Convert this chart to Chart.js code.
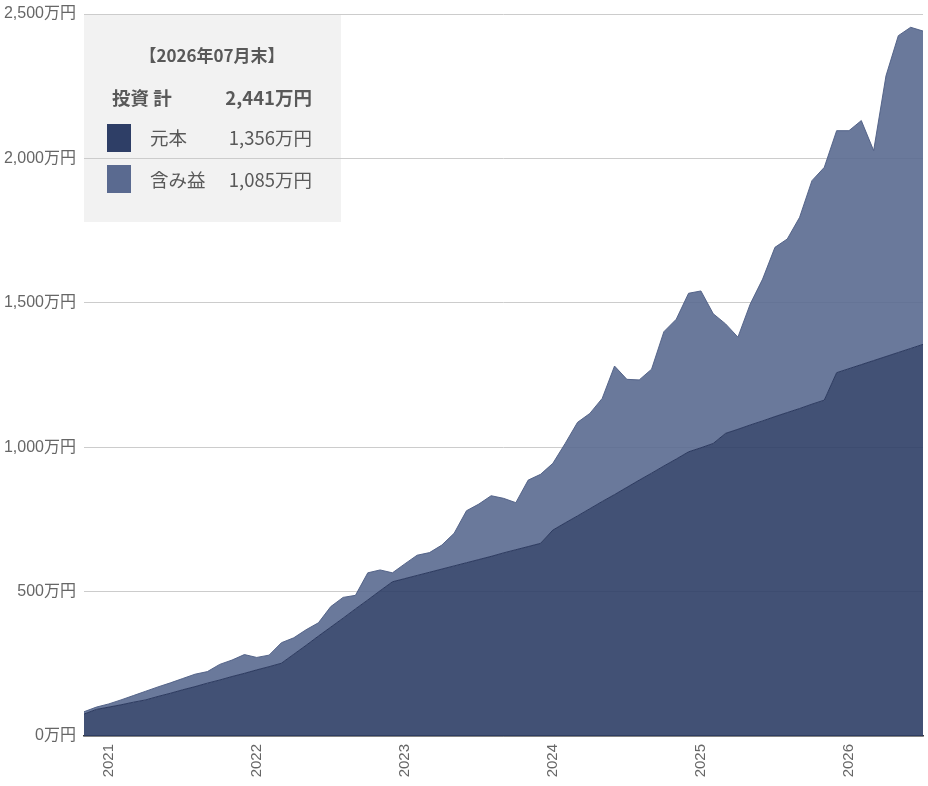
<!DOCTYPE html>
<html>
<head>
<meta charset="utf-8">
<script src="https://cdn.jsdelivr.net/npm/chart.js@4.4.1/dist/chart.umd.min.js"></script>
<style>
  html, body { margin: 0; padding: 0; background: #ffffff; }
  #wrap { width: 928px; height: 786px; position: relative; }
</style>
</head>
<body>
<div id="wrap"><canvas id="c" width="928" height="786"></canvas></div>
<script>
const months = [
  '2020/11','2020/12',
  '2021/01','2021/02','2021/03','2021/04','2021/05','2021/06','2021/07','2021/08','2021/09','2021/10','2021/11','2021/12',
  '2022/01','2022/02','2022/03','2022/04','2022/05','2022/06','2022/07','2022/08','2022/09','2022/10','2022/11','2022/12',
  '2023/01','2023/02','2023/03','2023/04','2023/05','2023/06','2023/07','2023/08','2023/09','2023/10','2023/11','2023/12',
  '2024/01','2024/02','2024/03','2024/04','2024/05','2024/06','2024/07','2024/08','2024/09','2024/10','2024/11','2024/12',
  '2025/01','2025/02','2025/03','2025/04','2025/05','2025/06','2025/07','2025/08','2025/09','2025/10','2025/11','2025/12',
  '2026/01','2026/02','2026/03','2026/04','2026/05','2026/06','2026/07'
];
// 元本 (principal), 万円
const principal = [76,92,100,108,117,125,137,148,160,171,183,194,206,217,229,240,252,
  283,314,346,377,408,440,471,503,534,
  545,556,567,578,589,600,611,622,634,645,656,667,
  713,738,762,787,812,836,861,886,910,935,959,984,
  998,1013,1048,1062,1077,1091,1106,1120,1134,1149,1163,
  1258,1272,1286,1300,1314,1328,1342,1356];
// 含み益 (unrealized gain), 万円
const gains = [8,8,11,17,23,30,33,36,39,43,
  40,54,57,65,43,40,71,57,54,46,
  71,72,47,94,72,31,51,70,68,83,
  113,180,192,210,189,163,230,239,231,275,
  324,330,357,445,374,347,360,465,484,549,
  543,449,379,319,419,491,586,601,662,774,
  806,838,824,845,727,972,1097,1112,1085];
const yearTicks = ['2021','2022','2023','2024','2025','2026'];
const seriesNames = ['元本','含み益'];
const boxTitle = '【2026年07月末】';
const totalLabel = '投資 計';

const fmt = v => v.toLocaleString('en-US') + '万円';
const CJK = "'Liberation Sans', 'Noto Sans CJK JP', sans-serif";
const BOXF = "'Noto Sans CJK JP', 'Noto Sans', sans-serif";

const darkSolid = '#2e3e66';
const lightSolid = '#5a6a90';

const boxPlugin = {
  id: 'summaryBox',
  beforeDraw(chart) {
    const ctx = chart.ctx;
    ctx.save();
    ctx.fillStyle = '#ffffff';
    ctx.fillRect(0, 0, chart.width, chart.height);
    ctx.fillStyle = '#f2f2f2';
    ctx.fillRect(84, 15, 257, 207);
    ctx.restore();
  },
  afterDraw(chart) {
    const ctx = chart.ctx;
    const last = principal.length - 1;
    const p = principal[last], g = gains[last];
    ctx.save();
    ctx.fillStyle = '#595959';
    ctx.textBaseline = 'middle';
    ctx.font = "bold 17px " + BOXF;
    ctx.textAlign = 'center';
    ctx.fillText(boxTitle, 212, 56);
    ctx.font = "bold 18.5px " + BOXF;
    ctx.textAlign = 'left';
    ctx.fillText(totalLabel, 112, 98);
    ctx.textAlign = 'right';
    ctx.fillText(fmt(p + g), 312, 98);
    // rows
    ctx.fillStyle = darkSolid;
    ctx.fillRect(107, 124, 24, 28);
    ctx.fillStyle = lightSolid;
    ctx.fillRect(107, 165, 24, 28);
    ctx.fillStyle = '#595959';
    ctx.font = "18.5px " + BOXF;
    ctx.textAlign = 'left';
    ctx.fillText(seriesNames[0], 150, 138);
    ctx.fillText(seriesNames[1], 150, 180);
    ctx.textAlign = 'right';
    ctx.fillText(fmt(p), 312, 138);
    ctx.fillText(fmt(g), 312, 180);
    ctx.restore();
  }
};

new Chart(document.getElementById('c'), {
  type: 'line',
  data: {
    labels: months,
    datasets: [
      {
        label: seriesNames[0],
        data: principal,
        fill: 'origin',
        backgroundColor: 'rgba(46,62,102,0.9)',
        borderColor: 'rgba(40,54,92,0.95)',
        borderWidth: 1,
        pointRadius: 0,
        tension: 0
      },
      {
        label: seriesNames[1],
        data: gains,
        fill: '-1',
        backgroundColor: 'rgba(90,106,144,0.9)',
        borderColor: 'rgba(80,96,134,0.95)',
        borderWidth: 1,
        pointRadius: 0,
        tension: 0
      }
    ]
  },
  options: {
    responsive: false,
    animation: false,
    devicePixelRatio: 1,
    layout: { padding: { top: 14, right: 5, bottom: 0, left: 0 } },
    plugins: {
      legend: { display: false },
      tooltip: { enabled: false }
    },
    events: [],
    scales: {
      x: {
        type: 'category',
        offset: false,
        grid: { display: false, drawTicks: false },
        border: { display: true, color: '#3a3a3a', width: 1.5 },
        ticks: {
          autoSkip: false,
          maxRotation: 90,
          minRotation: 90,
          padding: 8,
          color: '#666666',
          font: { size: 15, family: CJK },
          callback: function(v, i) {
            const m = months[i];
            const y = m.slice(0, 4);
            return (m.slice(5) === '01' && yearTicks.includes(y)) ? y : '';
          }
        },
        afterFit(s) { s.height = 50; s.paddingLeft = 0; s.paddingRight = 0; }
      },
      y: {
        stacked: true,
        min: 0,
        max: 2500,
        grid: { color: '#cccccc', lineWidth: 1, drawTicks: false },
        border: { display: false },
        ticks: {
          stepSize: 500,
          padding: 8,
          color: '#666666',
          font: { size: 16, family: CJK },
          callback: v => fmt(v)
        },
        afterFit(s) { s.width = 84; s.paddingTop = 0; s.paddingBottom = 0; }
      }
    }
  },
  plugins: [boxPlugin]
});
</script>
</body>
</html>
